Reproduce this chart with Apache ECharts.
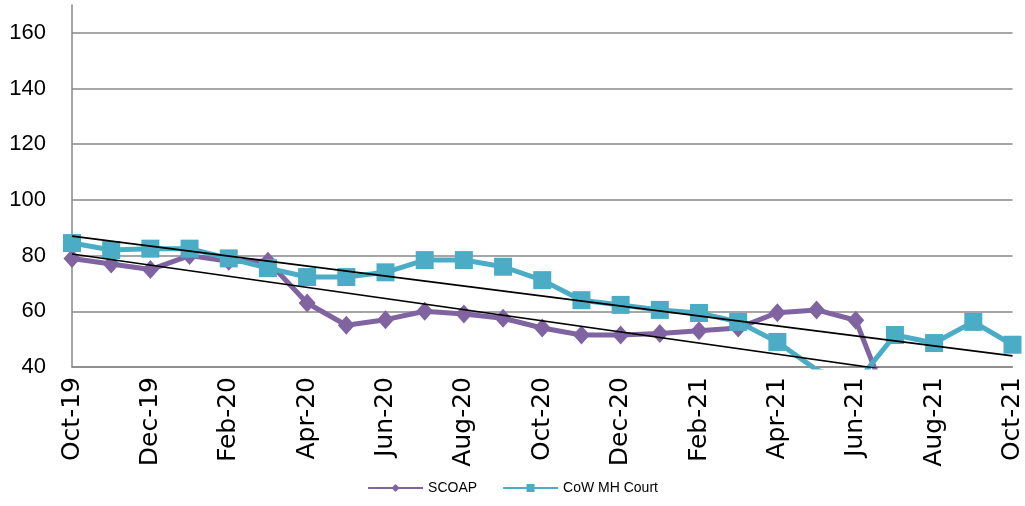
<!DOCTYPE html>
<html>
<head>
<meta charset="utf-8">
<script src="https://cdn.jsdelivr.net/npm/echarts@6/dist/echarts.min.js"></script>
<style>
  html, body { margin: 0; padding: 0; background: #fff; }
  #chart { width: 1025px; height: 506px; }
</style>
</head>
<body>
<div id="chart"></div>
<script>
// months on the x axis
var months = ['Oct-19','Nov-19','Dec-19','Jan-20','Feb-20','Mar-20','Apr-20','May-20','Jun-20',
  'Jul-20','Aug-20','Sep-20','Oct-20','Nov-20','Dec-20','Jan-21','Feb-21','Mar-21','Apr-21',
  'May-21','Jun-21','Jul-21','Aug-21','Sep-21','Oct-21'];

// values (points under 40 are clipped by the axis)
var scoap = [79, 77, 75, 80, 78, 78, 63, 55, 57, 60, 59, 57.5, 54, 51.5, 51.5, 52, 53, 54, 59.5, 60.5, 56.8, 21, null, null, null];
var cowMhCourt = [84.5, 82, 82.5, 82.5, 79, 75.5, 72.3, 72.3, 74, 78.4, 78.4, 76, 71.2, 64, 62.3, 60.5, 59.4, 56.2, 49, 39, 34, 51.5, 48.6, 56.2, 48];

// linear trend lines (end points)
var trendCow = [['Oct-19', 87], ['Oct-21', 44]];
var trendScoap = [['Oct-19', 80.6], ['Jul-21', 38.6]];

var yTicks = { min: 40, max: 170, interval: 20 };

// gridlines at 40..160 shown, none at the 170 top edge
var gridColors = ['#888', '#888', '#888', '#888', '#888', '#888', '#888', 'rgba(0,0,0,0)'];

var myChart = echarts.init(document.getElementById('chart'));

var option = {
  animation: false,
  textStyle: { fontFamily: 'Liberation Sans' },
  grid: { left: 72, right: 9, top: 5, bottom: 139, containLabel: false },
  legend: {
    data: ['SCOAP', 'CoW MH Court'],
    bottom: 6,
    left: 'center',
    itemWidth: 55,
    itemHeight: 10,
    itemGap: 25,
    textStyle: { fontSize: 14, color: '#000', fontFamily: 'Liberation Sans' }
  },
  xAxis: {
    type: 'category',
    data: months,
    boundaryGap: false,
    axisLine: { lineStyle: { color: '#888', width: 1.5 } },
    axisTick: { show: false },
    axisLabel: {
      interval: 1,
      rotate: 90,
      margin: 10,
      color: '#000',
      fontSize: 25,
      fontFamily: 'DejaVu Sans'
    },
    splitLine: { show: false }
  },
  yAxis: {
    type: 'value',
    min: yTicks.min,
    max: yTicks.max,
    interval: yTicks.interval,
    axisLine: { show: true, lineStyle: { color: '#888', width: 1.5 } },
    axisTick: { show: false },
    axisLabel: { color: '#000', fontSize: 22, margin: 26, showMaxLabel: false },
    splitLine: { lineStyle: { color: gridColors, width: 1.5 } }
  },
  series: [
    {
      name: 'SCOAP',
      type: 'line',
      data: scoap,
      color: '#8064A2',
      lineStyle: { width: 5 },
      symbol: 'diamond',
      symbolSize: [17, 19],
      itemStyle: { color: '#8064A2' },
      z: 2
    },
    {
      name: 'CoW MH Court',
      type: 'line',
      data: cowMhCourt,
      color: '#4BACC6',
      lineStyle: { width: 5 },
      symbol: 'rect',
      symbolSize: 18,
      itemStyle: { color: '#4BACC6' },
      z: 3
    },
    {
      name: 'trend1',
      type: 'line',
      data: trendScoap,
      symbol: 'none',
      silent: true,
      lineStyle: { color: '#000', width: 1.6 },
      z: 4
    },
    {
      name: 'trend2',
      type: 'line',
      data: trendCow,
      symbol: 'none',
      silent: true,
      lineStyle: { color: '#000', width: 1.6 },
      z: 4
    }
  ]
};
myChart.setOption(option, true);
</script>
</body>
</html>
